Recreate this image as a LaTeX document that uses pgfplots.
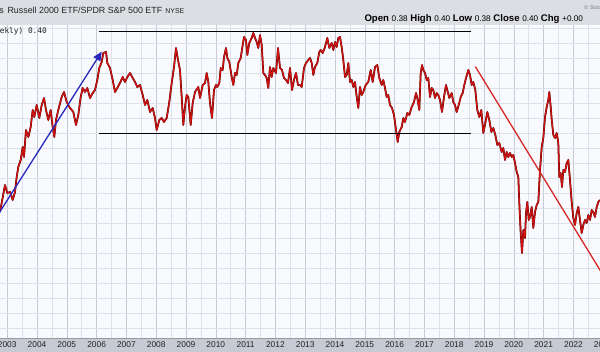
\documentclass[border=0pt]{standalone}
\usepackage{pgfplots}
\pgfplotsset{compat=1.18}
\usepackage{pgfplotstable}
\usepackage{fontspec}
\setmainfont{Liberation Sans}
\newfontfamily\monofont{DejaVu Sans Mono}
\usetikzlibrary{arrows.meta}
\definecolor{plotbg}{RGB}{249,250,253}
\definecolor{gridminor}{RGB}{222,225,233}
\definecolor{gridmajor}{RGB}{198,202,212}
\definecolor{headbg}{RGB}{220,222,227}
\definecolor{headline}{RGB}{150,154,162}
\definecolor{footbg}{RGB}{198,202,211}
\definecolor{priceRed}{RGB}{205,16,16}
\definecolor{priceDark}{RGB}{70,0,0}
\definecolor{trendRed}{RGB}{214,40,40}
\definecolor{arrowBlue}{RGB}{40,40,190}
\definecolor{labgray}{RGB}{35,35,35}

\pgfplotstableread{
year ratio
2002.758 0.393
2002.926 0.420
2003.003 0.412
2003.094 0.413
2003.184 0.405
2003.261 0.413
2003.318 0.428
2003.372 0.438
2003.453 0.445
2003.520 0.458
2003.563 0.448
2003.630 0.475
2003.708 0.468
2003.788 0.478
2003.855 0.495
2003.909 0.488
2003.990 0.500
2004.077 0.487
2004.157 0.500
2004.235 0.507
2004.302 0.495
2004.379 0.485
2004.459 0.495
2004.526 0.478
2004.580 0.468
2004.637 0.485
2004.714 0.495
2004.828 0.508
2004.906 0.513
2004.996 0.503
2005.107 0.497
2005.218 0.493
2005.308 0.480
2005.386 0.490
2005.466 0.508
2005.533 0.517
2005.610 0.513
2005.688 0.517
2005.778 0.507
2005.869 0.512
2005.946 0.515
2006.023 0.525
2006.090 0.537
2006.171 0.543
2006.224 0.552
2006.315 0.553
2006.359 0.542
2006.449 0.537
2006.540 0.525
2006.617 0.513
2006.694 0.517
2006.785 0.522
2006.875 0.528
2006.953 0.523
2007.030 0.528
2007.120 0.532
2007.211 0.527
2007.288 0.523
2007.365 0.518
2007.456 0.520
2007.547 0.510
2007.624 0.500
2007.701 0.505
2007.792 0.493
2007.882 0.497
2007.959 0.487
2008.016 0.475
2008.104 0.485
2008.184 0.487
2008.261 0.483
2008.352 0.487
2008.439 0.503
2008.520 0.522
2008.597 0.538
2008.664 0.557
2008.731 0.545
2008.798 0.535
2008.855 0.508
2008.909 0.480
2008.966 0.498
2009.023 0.510
2009.077 0.508
2009.157 0.480
2009.224 0.502
2009.302 0.513
2009.412 0.518
2009.469 0.507
2009.560 0.520
2009.637 0.522
2009.694 0.532
2009.748 0.523
2009.805 0.502
2009.872 0.487
2009.939 0.515
2010.006 0.520
2010.050 0.518
2010.117 0.522
2010.164 0.537
2010.231 0.535
2010.275 0.548
2010.342 0.557
2010.386 0.547
2010.453 0.543
2010.533 0.528
2010.587 0.520
2010.644 0.532
2010.701 0.530
2010.755 0.542
2010.835 0.547
2010.902 0.560
2010.946 0.568
2011.013 0.565
2011.057 0.550
2011.124 0.562
2011.204 0.567
2011.258 0.572
2011.315 0.567
2011.372 0.563
2011.426 0.557
2011.483 0.570
2011.540 0.560
2011.594 0.532
2011.651 0.530
2011.708 0.527
2011.761 0.517
2011.818 0.538
2011.875 0.528
2011.929 0.537
2012.020 0.532
2012.087 0.557
2012.154 0.537
2012.221 0.535
2012.288 0.527
2012.355 0.525
2012.422 0.522
2012.490 0.537
2012.557 0.515
2012.624 0.525
2012.691 0.532
2012.758 0.520
2012.825 0.520
2012.882 0.518
2012.959 0.537
2013.026 0.542
2013.104 0.545
2013.161 0.547
2013.218 0.542
2013.271 0.530
2013.328 0.538
2013.406 0.542
2013.473 0.553
2013.520 0.555
2013.587 0.552
2013.664 0.558
2013.741 0.567
2013.808 0.557
2013.889 0.562
2013.943 0.555
2014.000 0.563
2014.057 0.558
2014.110 0.567
2014.167 0.568
2014.224 0.558
2014.278 0.545
2014.335 0.528
2014.392 0.530
2014.446 0.542
2014.503 0.523
2014.560 0.525
2014.614 0.518
2014.671 0.523
2014.728 0.508
2014.781 0.497
2014.839 0.518
2014.896 0.510
2014.949 0.513
2015.030 0.520
2015.117 0.523
2015.198 0.535
2015.265 0.523
2015.342 0.538
2015.419 0.540
2015.486 0.527
2015.567 0.520
2015.620 0.525
2015.677 0.517
2015.734 0.508
2015.788 0.510
2015.845 0.500
2015.912 0.497
2015.979 0.490
2016.047 0.475
2016.104 0.463
2016.157 0.473
2016.238 0.478
2016.292 0.487
2016.349 0.483
2016.426 0.492
2016.493 0.490
2016.573 0.498
2016.651 0.503
2016.718 0.512
2016.761 0.507
2016.829 0.495
2016.875 0.532
2016.919 0.540
2016.963 0.535
2017.020 0.532
2017.077 0.525
2017.130 0.527
2017.188 0.508
2017.245 0.517
2017.298 0.515
2017.355 0.507
2017.412 0.512
2017.466 0.510
2017.523 0.505
2017.590 0.493
2017.657 0.508
2017.724 0.520
2017.768 0.515
2017.835 0.507
2017.916 0.512
2017.969 0.503
2018.026 0.500
2018.083 0.493
2018.151 0.500
2018.218 0.508
2018.285 0.512
2018.338 0.520
2018.396 0.527
2018.473 0.535
2018.530 0.530
2018.587 0.520
2018.640 0.523
2018.708 0.515
2018.775 0.495
2018.842 0.488
2018.909 0.495
2018.976 0.472
2019.044 0.482
2019.110 0.493
2019.178 0.485
2019.245 0.473
2019.312 0.477
2019.379 0.470
2019.446 0.460
2019.513 0.462
2019.593 0.453
2019.647 0.457
2019.704 0.445
2019.761 0.453
2019.815 0.448
2019.872 0.452
2019.929 0.448
2019.983 0.450
2020.040 0.442
2020.097 0.433
2020.151 0.428
2020.184 0.402
2020.231 0.372
2020.275 0.352
2020.319 0.375
2020.375 0.367
2020.409 0.392
2020.453 0.403
2020.500 0.385
2020.543 0.388
2020.601 0.398
2020.654 0.377
2020.711 0.393
2020.768 0.400
2020.822 0.403
2020.879 0.435
2020.936 0.458
2020.990 0.467
2021.047 0.488
2021.104 0.498
2021.157 0.505
2021.191 0.513
2021.238 0.498
2021.272 0.485
2021.326 0.470
2021.382 0.467
2021.439 0.472
2021.493 0.462
2021.526 0.428
2021.573 0.432
2021.617 0.418
2021.661 0.435
2021.718 0.433
2021.775 0.442
2021.828 0.445
2021.885 0.425
2021.942 0.403
2021.996 0.387
2022.053 0.380
2022.110 0.392
2022.164 0.398
2022.221 0.385
2022.278 0.372
2022.332 0.380
2022.389 0.385
2022.446 0.382
2022.499 0.390
2022.557 0.385
2022.614 0.395
2022.667 0.393
2022.724 0.388
2022.781 0.398
2022.835 0.403
2022.892 0.405
}\pricedata

\begin{document}
\begin{tikzpicture}[x=1pt,y=1pt]
\useasboundingbox (0,0) rectangle (600,352);
% bottom date bar
\fill[footbg] (0,0) rectangle (600,14);
\draw[headline,line width=0.6pt] (0,14) -- (600,14);
% header bar
\fill[headbg] (0,327) rectangle (600,352);
\draw[headline,line width=0.6pt] (0,327) -- (600,327);

\begin{axis}[
  at={(0pt,14pt)}, anchor=south west,
  width=600pt, height=313pt, scale only axis,
  xmin=2002.758, xmax=2022.892,
  ymin=0.267, ymax=0.580,
  axis line style={draw=none},
  axis background/.style={fill=plotbg},
  xtick={2003,2004,2005,2006,2007,2008,2009,2010,2011,2012,2013,2014,2015,2016,2017,2018,2019,2020,2021,2022},
  xticklabels={2003,2004,2005,2006,2007,2008,2009,2010,2011,2012,2013,2014,2015,2016,2017,2018,2019,2020,2021,2022},
  minor xtick={2002.5,2003.5,2004.5,2005.5,2006.5,2007.5,2008.5,2009.5,2010.5,2011.5,2012.5,2013.5,2014.5,2015.5,2016.5,2017.5,2018.5,2019.5,2020.5,2021.5,2022.5},
  ytick={0.2767,0.2917,0.3067,0.3217,0.3367,0.3517,0.3667,0.3817,0.3967,0.4117,0.4267,0.4417,0.4567,0.4717,0.4867,0.5017,0.5167,0.5317,0.5467,0.5617,0.5767},
  yticklabels={},
  xmajorgrids, xminorgrids, ymajorgrids,
  major x grid style={gridmajor, line width=0.6pt},
  minor x grid style={gridminor, line width=0.6pt},
  major y grid style={gridminor, line width=0.6pt},
  major tick length=0pt, minor tick length=0pt,
  x tick label style={font=\fontsize{8.4}{8.4}\selectfont, text=labgray, anchor=center, yshift=-7pt, inner sep=0pt},
  clip=true,
]
% price ratio line
\addplot[priceDark, line width=1.75pt, line join=round] table[x=year,y=ratio] {\pricedata};
\addplot[priceRed, line width=1.3pt, line join=round] table[x=year,y=ratio] {\pricedata};
% horizontal range lines
\addplot[black, line width=1.4pt] coordinates {(2006.090,0.5733) (2018.565,0.5733)};
\addplot[black, line width=1.4pt] coordinates {(2006.090,0.4715) (2018.565,0.4715)};
% falling trend line
\addplot[trendRed, line width=1.3pt] coordinates {(2018.711,0.5383) (2023.2,0.320)};
% rising arrow
\addplot[arrowBlue, line width=1.3pt, -{Triangle[length=9pt,width=8pt]}] coordinates {(2002.6,0.386) (2006.171,0.5533)};
\end{axis}
% partly visible 2023 date label at the right edge
\node[anchor=center, inner sep=0pt, font=\fontsize{8.4}{8.4}\selectfont, text=labgray] at (603.2,7) {2023};

% header texts
\node[anchor=base east, inner sep=0pt, font=\fontsize{8.9}{8.9}\selectfont, text=labgray] at (4,338.7) {iShares};
\node[anchor=base west, inner sep=0pt, font=\fontsize{8.9}{8.9}\selectfont, text=labgray] at (7.3,338.7) {Russell 2000 ETF/SPDR S\&P 500 ETF\hspace{3pt}{\fontsize{7}{7}\selectfont NYSE}};
\node[anchor=base west, inner sep=0pt, font=\fontsize{5.5}{5.5}\selectfont, text=gray] at (584,342) {\textcopyright\ StockCharts.com};
\node[anchor=base west, inner sep=0pt, font=\fontsize{9.6}{9.6}\selectfont, text=black] at (364.3,330.5) {\textbf{Open} {\fontsize{8.2}{8.2}\selectfont 0.38} \textbf{High} {\fontsize{8.2}{8.2}\selectfont 0.40} \textbf{Low} {\fontsize{8.2}{8.2}\selectfont 0.38} \textbf{Close} {\fontsize{8.2}{8.2}\selectfont 0.40} \textbf{Chg} {\fontsize{8.2}{8.2}\selectfont +0.00}};
\node[anchor=base east, inner sep=0pt, font=\monofont\fontsize{7.8}{7.8}\selectfont, text=labgray] at (47,318) {IWM:SPY (Weekly) 0.40};
\end{tikzpicture}
\end{document}
